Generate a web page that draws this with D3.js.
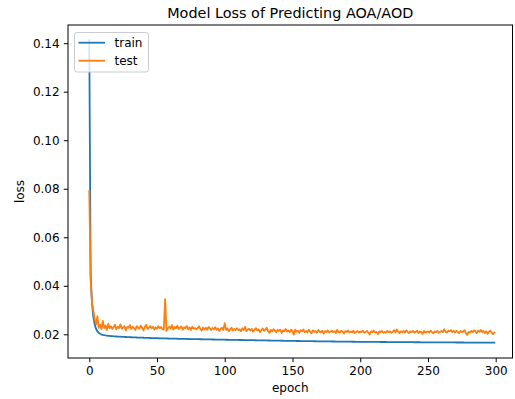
<!DOCTYPE html>
<html><head><meta charset="utf-8">
<script src="https://cdn.jsdelivr.net/npm/d3@7"></script>
<style>body{margin:0;background:#fff}svg{display:block;font-family:"DejaVu Sans",sans-serif}</style>
</head><body><div id="chart"></div>
<script>
const title = "Model Loss of Predicting AOA/AOD";
const xLabel = "epoch";
const yLabel = "loss";
const seriesNames = ["train", "test"];
const xTicks = [0, 50, 100, 150, 200, 250, 300];
const yTicks = [0.02, 0.04, 0.06, 0.08, 0.10, 0.12, 0.14];

const trainLoss = [
.1413,.0450,.0330,.0272,.0241,.0223,.0212,.0206,.0202,.0199,
.01975,.01962,.01952,.01945,.01938,.01932,.01927,.01923,.01918,.01914,
.01910,.01907,.01904,.01900,.01897,.01894,.01891,.01888,.01886,.01883,
.01880,.01878,.01876,.01873,.01871,.01869,.01866,.01864,.01862,.01860,
.01858,.01856,.01854,.01852,.01850,.01848,.01846,.01845,.01843,.01841,
.01839,.01838,.01836,.01834,.01833,.01831,.01830,.01828,.01827,.01825,
.01824,.01822,.01821,.01819,.01818,.01817,.01815,.01814,.01813,.01811,
.01810,.01809,.01808,.01806,.01805,.01804,.01803,.01802,.01800,.01799,
.01798,.01797,.01796,.01795,.01794,.01793,.01792,.01790,.01789,.01788,
.01787,.01786,.01785,.01784,.01783,.01782,.01781,.01780,.01779,.01778,
.01777,.01776,.01775,.01774,.01773,.01772,.01771,.01770,.01769,.01768,
.01767,.01766,.01765,.01764,.01763,.01762,.01761,.01760,.01759,.01758,
.01757,.01756,.01755,.01754,.01753,.01752,.01751,.01750,.01749,.01748,
.01747,.01746,.01745,.01744,.01743,.01742,.01741,.01740,.01739,.01738,
.01737,.01736,.01735,.01734,.01733,.01732,.01731,.01730,.01729,.01728,
.01727,.01726,.01725,.01724,.01724,.01723,.01722,.01721,.01720,.01720,
.01719,.01718,.01717,.01716,.01716,.01715,.01714,.01713,.01712,.01712,
.01711,.01710,.01709,.01709,.01708,.01707,.01706,.01706,.01705,.01704,
.01703,.01703,.01702,.01701,.01700,.01700,.01699,.01698,.01697,.01697,
.01696,.01695,.01695,.01694,.01693,.01692,.01692,.01691,.01690,.01690,
.01689,.01689,.01688,.01688,.01688,.01687,.01687,.01686,.01686,.01686,
.01685,.01685,.01684,.01684,.01684,.01683,.01683,.01682,.01682,.01682,
.01681,.01681,.01680,.01680,.01680,.01679,.01679,.01678,.01678,.01678,
.01677,.01677,.01676,.01676,.01676,.01675,.01675,.01674,.01674,.01674,
.01673,.01673,.01672,.01672,.01672,.01671,.01671,.01670,.01670,.01670,
.01669,.01669,.01669,.01668,.01668,.01668,.01667,.01667,.01667,.01666,
.01666,.01666,.01665,.01665,.01665,.01664,.01664,.01664,.01663,.01663,
.01663,.01662,.01662,.01662,.01661,.01661,.01661,.01660,.01660,.01660,
.01659,.01659,.01659,.01658,.01658,.01658,.01657,.01657,.01657,.01656,
.01656,.01656,.01655,.01655,.01655,.01654,.01654,.01654,.01653,.01653
];

const testLoss = [
.0791,.0424,.0332,.0298,.0262,.0241,.0274,.0226,.0240,.0221,
.0255,.0226,.0236,.0218,.0244,.0225,.0233,.0222,.0230,.0239,
.0220,.0231,.0225,.0241,.0223,.0228,.0234,.0216,.0230,.0227,
.0238,.0222,.0231,.0225,.0218,.0233,.0228,.0223,.0236,.0227,
.0216,.0230,.0239,.0222,.0227,.0234,.0225,.0231,.0220,.0228,
.0223,.0233,.0225,.0230,.0222,.0219,.0345,.0214,.0225,.0231,
.0224,.0238,.0220,.0230,.0225,.0235,.0222,.0227,.0232,.0219,
.0229,.0225,.0234,.0221,.0228,.0218,.0231,.0223,.0226,.0220,
.0225,.0233,.0222,.0215,.0228,.0221,.0227,.0219,.0230,.0224,
.0218,.0226,.0221,.0229,.0219,.0224,.0214,.0223,.0227,.0218,
.0246,.0218,.0224,.0213,.0221,.0227,.0215,.0222,.0218,.0225,
.0217,.0221,.0212,.0225,.0218,.0231,.0213,.0220,.0223,.0215,
.0222,.0211,.0219,.0225,.0216,.0220,.0209,.0217,.0224,.0214,
.0219,.0227,.0213,.0206,.0218,.0212,.0221,.0215,.0208,.0219,
.0214,.0219,.0206,.0217,.0213,.0222,.0211,.0216,.0208,.0219,
.0213,.0199,.0219,.0211,.0215,.0206,.0217,.0212,.0220,.0209,
.0214,.0208,.0219,.0211,.0204,.0216,.0210,.0213,.0207,.0218,
.0211,.0208,.0215,.0203,.0213,.0210,.0216,.0207,.0211,.0215,
.0209,.0213,.0205,.0218,.0210,.0207,.0215,.0211,.0203,.0213,
.0210,.0216,.0207,.0211,.0208,.0215,.0205,.0210,.0213,.0207,
.0212,.0209,.0215,.0206,.0210,.0214,.0207,.0199,.0212,.0209,
.0215,.0207,.0210,.0201,.0212,.0209,.0214,.0206,.0210,.0207,
.0214,.0209,.0212,.0206,.0210,.0217,.0207,.0220,.0210,.0205,
.0212,.0209,.0214,.0207,.0217,.0210,.0205,.0212,.0209,.0214,
.0207,.0210,.0215,.0205,.0212,.0209,.0202,.0214,.0207,.0210,
.0212,.0207,.0215,.0209,.0204,.0212,.0209,.0214,.0206,.0210,
.0214,.0209,.0221,.0210,.0207,.0215,.0212,.0217,.0209,.0214,
.0207,.0215,.0210,.0205,.0214,.0209,.0212,.0217,.0204,.0198,
.0210,.0207,.0214,.0209,.0217,.0212,.0205,.0215,.0210,.0218,
.0209,.0214,.0205,.0212,.0202,.0210,.0215,.0207,.0201,.0207
];

const colors = ["#1f77b4", "#ff7f0e"];
const W = 515, H = 399;
const plot = {left: 68, right: 512.5, top: 25, bottom: 358};

const svg = d3.select("#chart").append("svg").attr("width", W).attr("height", H);

const x = d3.scaleLinear().domain([-15.7, 312.4]).range([plot.left, plot.right]);
const y = d3.scaleLinear().domain([0.01023, 0.1475]).range([plot.bottom, plot.top]);

svg.append("defs").append("clipPath").attr("id", "clip")
  .append("rect").attr("x", plot.left).attr("y", plot.top)
  .attr("width", plot.right - plot.left).attr("height", plot.bottom - plot.top);

const line = d3.line().x((d, i) => x(i)).y(d => y(d));
const series = [trainLoss, testLoss];
const g = svg.append("g").attr("clip-path", "url(#clip)");
series.forEach((s, k) => {
  g.append("path").datum(s).attr("d", line)
    .attr("fill", "none").attr("stroke", colors[k]).attr("stroke-width", 1.8)
    .attr("stroke-linejoin", "round").attr("stroke-linecap", "square");
});

// axes
const xAxis = d3.axisBottom(x).tickValues(xTicks).tickFormat(d3.format("d")).tickSize(4.2).tickPadding(4.2);
const yAxis = d3.axisLeft(y).tickValues(yTicks).tickFormat(d3.format(".2f")).tickSize(4.2).tickPadding(4.2);
const gx = svg.append("g").attr("transform", `translate(0,${plot.bottom})`).call(xAxis);
const gy = svg.append("g").attr("transform", `translate(${plot.left},0)`).call(yAxis);
[gx, gy].forEach(a => {
  a.select(".domain").remove();
  a.selectAll(".tick line").attr("stroke", "#000").attr("stroke-width", 1);
  a.selectAll(".tick text").attr("fill", "#000").style("font-size", "12px").style("font-family", "DejaVu Sans");
});

// frame
svg.append("rect").attr("x", plot.left).attr("y", plot.top)
  .attr("width", plot.right - plot.left).attr("height", plot.bottom - plot.top)
  .attr("fill", "none").attr("stroke", "#000").attr("stroke-width", 1);

// title & labels
svg.append("text").attr("x", (plot.left + plot.right) / 2).attr("y", 18)
  .attr("text-anchor", "middle").style("font-size", "14.4px").text(title);
svg.append("text").attr("x", (plot.left + plot.right) / 2).attr("y", 392)
  .attr("text-anchor", "middle").style("font-size", "12px").text(xLabel);
svg.append("text").attr("transform", `translate(24,${(plot.top + plot.bottom) / 2}) rotate(-90)`)
  .attr("text-anchor", "middle").style("font-size", "12px").text(yLabel);

// legend
const lg = svg.append("g");
lg.append("rect").attr("x", 74.5).attr("y", 32.5).attr("width", 74).attr("height", 39.5)
  .attr("rx", 2.5).attr("fill", "#fff").attr("fill-opacity", 0.8)
  .attr("stroke", "#ccc").attr("stroke-width", 1);
seriesNames.forEach((n, k) => {
  const yy = 42.7 + k * 18;
  lg.append("line").attr("x1", 78.5).attr("x2", 105).attr("y1", yy).attr("y2", yy)
    .attr("stroke", colors[k]).attr("stroke-width", 1.8);
  lg.append("text").attr("x", 114.5).attr("y", yy + 4.3).style("font-size", "12px").text(n);
});
</script></body></html>
